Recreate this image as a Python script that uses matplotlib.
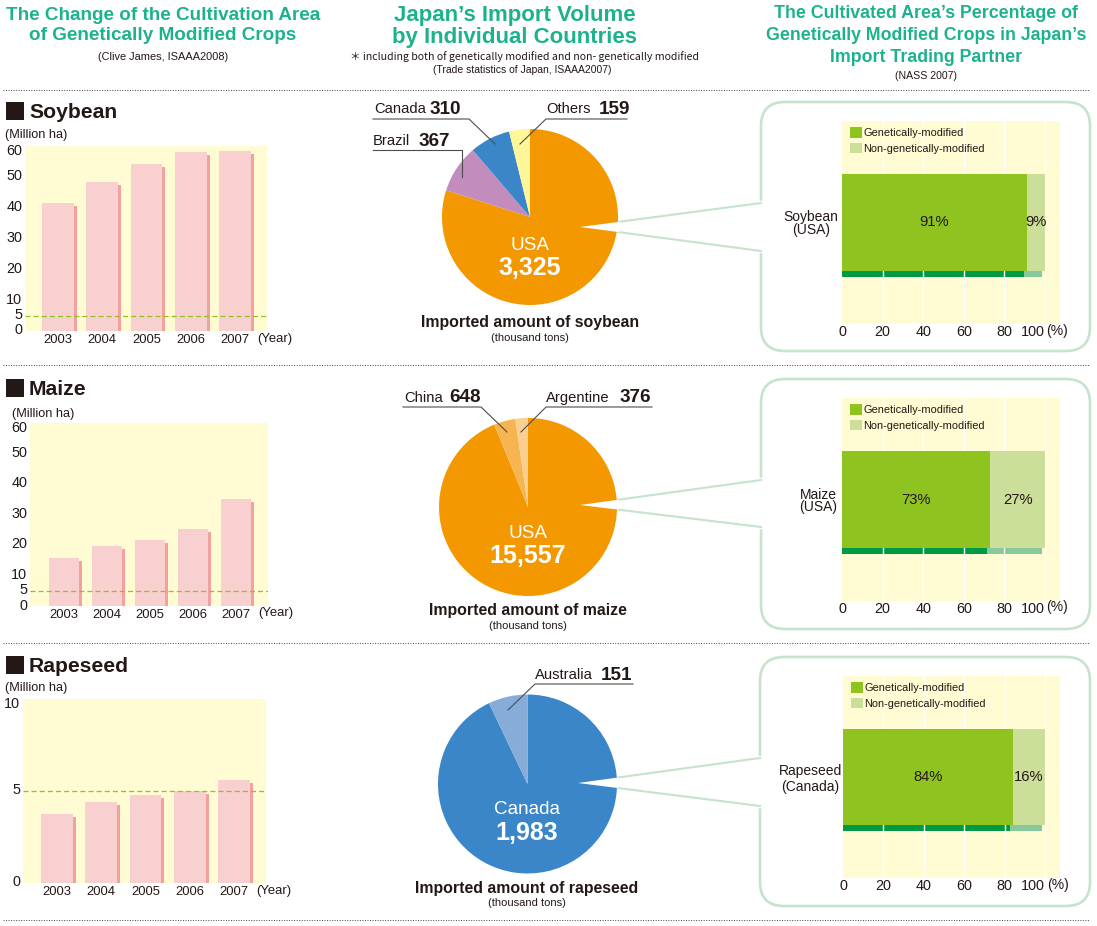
import numpy as np
import matplotlib
matplotlib.use('Agg')
import matplotlib.pyplot as plt
from matplotlib.patches import FancyBboxPatch, Polygon, Rectangle
from matplotlib.transforms import ScaledTranslation, offset_copy

plt.rcParams['font.family'] = ['Liberation Sans', 'DejaVu Sans']

W, H = 1097, 926

years = ['2003', '2004', '2005', '2006', '2007']
soy_area = [41.5, 48.4, 54.2, 58.2, 58.5]
maize_area = [15.6, 19.6, 21.5, 25.2, 35.1]
rape_area = [3.75, 4.4, 4.8, 5.0, 5.6]

soy_import = [3325, 367, 310, 159]
maize_import = [15557, 648, 376]
rape_import = [1983, 151]

soy_pct = [91, 9]
maize_pct = [73, 27]
rape_pct = [84, 16]

GREEN_HEAD = '#1db28e'
TEXT = '#231815'
BOX = '#c5e3cd'
YELLOW = '#fffbd3'
ORANGE = '#f39800'
BLUE = '#3a86c8'

fig = plt.figure(figsize=(W / 100, H / 100), dpi=100, facecolor='white')


def px_axes(x0, y0, x1, y1, z=1):
    ax = fig.add_axes([x0 / W, 1 - y1 / H, (x1 - x0) / W, (y1 - y0) / H], zorder=z)
    return ax


def page_axes(z):
    ax = fig.add_axes([0, 0, 1, 1], zorder=z)
    ax.set_xlim(0, W)
    ax.set_ylim(H, 0)
    ax.axis('off')
    ax.patch.set_alpha(0)
    return ax


back = page_axes(0)
top = page_axes(5)


def txt(x, y, s, size, ha='center', weight='normal', color=TEXT, ax=top, **kw):
    ax.text(x, y, s, fontsize=size, ha=ha, va='center', fontweight=weight, color=color, **kw)


def bar_panel(box, first, step, values, ymax, ticks, year_y, unit_x, unit_y):
    x0, y0, x1, y1 = box
    ax = px_axes(*box)
    ax.set_facecolor(YELLOW)
    # xlim from pixel positions of the first bar and spacing
    ax.set_xlim((x0 - first) / step, (x1 - first) / step)
    ax.set_ylim(0, ymax)
    pos = np.arange(len(values))
    shadow = offset_copy(ax.transData, fig=fig, x=3, y=-3, units='dots')
    ax.bar(pos, values, width=0.72, color='#f3a0a0', transform=shadow, zorder=2)
    ax.bar(pos, values, width=0.72, color='#f8d0d0', zorder=3)
    ax.axhline(5, color='#8fc31f', lw=0.9, ls=(0, (4, 2.5)), zorder=4)
    ax.set_xticks(pos, years)
    ax.set_yticks(ticks)
    ax.tick_params(axis='y', length=0, labelsize=10.4, labelcolor=TEXT, pad=2)
    ax.tick_params(axis='x', length=0, labelsize=9.4, labelcolor=TEXT, pad=2.5)
    labels = ax.get_yticklabels()
    labels[-1].set_va('top')
    # the labels sit about 2px above their gridded spot in the reference
    up = ScaledTranslation(0, 2 / 100, fig.dpi_scale_trans)
    for tick in ax.yaxis.get_major_ticks():
        tick.label1.set_transform(tick.label1.get_transform() + up)
    for s in ax.spines.values():
        s.set_visible(False)
    txt(unit_x, unit_y, '(Million ha)', 9.2, ha='left')
    txt(x1 - 10, year_y, '(Year)', 9.4, ha='left')


def pie_panel(cx, cy, r, values, colors, tip, tail_x, tail_top, tail_bot):
    ax = px_axes(cx - r, cy - r, cx + r, cy + r, z=2)
    ax.pie(values, colors=colors, startangle=90, counterclock=False, radius=1.0)
    ax.set_xlim(-1, 1)
    ax.set_ylim(-1, 1)
    # white notch from the callout, then the tail lines out to the box
    ex = cx + r + 1.5
    k1 = (tail_top - tip[1]) / (tail_x - tip[0])
    k2 = (tail_bot - tip[1]) / (tail_x - tip[0])
    y1 = tip[1] + k1 * (ex - tip[0])
    y2 = tip[1] + k2 * (ex - tip[0])
    top.add_patch(Polygon([tip, (ex, y1), (ex, y2)], fc='white', ec='none', zorder=1))
    back.plot([tail_x, tail_x], [tail_top, tail_bot], color='white', lw=3.2, zorder=3)
    back.plot([tip[0], tail_x], [tip[1], tail_top], color=BOX, lw=1.5, zorder=4)
    back.plot([tip[0], tail_x], [tip[1], tail_bot], color=BOX, lw=1.5, zorder=4)


def pct_panel(box, plot, pct, name, sub, name_x, name_ys):
    bx0, by0, bx1, by1 = box
    back.add_patch(FancyBboxPatch((bx0, by0), bx1 - bx0, by1 - by0,
                                  boxstyle='round,pad=0,rounding_size=24',
                                  fc='white', ec=BOX, lw=1.9, zorder=2))
    ax = px_axes(*plot, z=1)
    ax.set_facecolor(YELLOW)
    ax.set_xlim(0, 107.4)
    ax.set_ylim(-1.035, 1.035)
    dark = offset_copy(ax.transData, fig=fig, x=-3, y=-6, units='dots')
    ax.barh(0, pct[0], height=0.985, color='#009944', transform=dark, zorder=1)
    ax.barh(0, pct[1], left=pct[0], height=0.985, color='#88c99b', transform=dark, zorder=1)
    for g in range(20, 101, 20):
        ax.axvline(g, color='white', lw=1, zorder=2)
    ax.barh(0, pct[0], height=0.985, color='#8fc31f', zorder=3, label='Genetically-modified')
    ax.barh(0, pct[1], left=pct[0], height=0.985, color='#cbdf9b', zorder=3,
            label='Non-genetically-modified')
    ax.text(pct[0] / 2, 0, '%d%%' % pct[0], fontsize=10.6, ha='center', va='center',
            color=TEXT, zorder=4)
    ax.text(pct[0] + pct[1] / 2, 0, '%d%%' % pct[1], fontsize=10.6, ha='center', va='center',
            color=TEXT, zorder=4)
    ax.set_xticks(range(0, 101, 20))
    ax.set_yticks([])
    ax.tick_params(length=0, labelsize=10.4, labelcolor=TEXT, pad=0.5)
    ax.get_xticklabels()[-1].set_ha('right')
    for s in ax.spines.values():
        s.set_visible(False)
    ax.legend(loc='upper left', bbox_to_anchor=(0.016, 0.99), frameon=False, fontsize=7.9,
              handlelength=1.1, handleheight=1.1, handletextpad=0.15,
              labelspacing=0.4, borderpad=0.3, borderaxespad=0.1,
              labelcolor=TEXT)
    txt(plot[0] + 204, plot[3] + 6.5, '(%)', 10, ha='left', zorder=6)
    txt(name_x, name_ys[0], name, 10)
    txt(name_x, name_ys[1], sub, 10)


def leader(pts):
    xs, ys = zip(*pts)
    top.plot(xs, ys, color='#4d4d4d', lw=0.8, zorder=3)


def callout(x, y, name, value, end, line_y, line_x0, line_x1, tail):
    txt(x, y, name, 10.6, ha='left')
    txt(end, y, value, 13.6, ha='right', weight='bold')
    leader([(line_x0, line_y), (line_x1, line_y), tail])


# headers
for y, s in [(15.5, 'The Change of the Cultivation Area'), (36, 'of Genetically Modified Crops')]:
    txt(163, y, s, 13.55, weight='bold', color=GREEN_HEAD)
txt(163, 57, '(Clive James, ISAAA2008)', 7.9)
for y, s in [(15.5, 'Japan\u2019s Import Volume'), (38, 'by Individual Countries')]:
    txt(515, y, s, 16, weight='bold', color=GREEN_HEAD)
txt(524, 57, '\uff0a including both of genetically modified and non- genetically modified', 7.6,
    family=['Noto Sans CJK JP', 'Liberation Sans'])
txt(522, 70, '(Trade statistics of Japan, ISAAA2007)', 7.5)
for y, s in [(14, 'The Cultivated Area\u2019s Percentage of'),
             (35.5, 'Genetically Modified Crops in Japan\u2019s'),
             (57, 'Import Trading Partner')]:
    txt(926, y, s, 12.8, weight='bold', color=GREEN_HEAD)
txt(926, 76, '(NASS 2007)', 7.6)

# separators
for y in [90, 365, 643, 920]:
    back.plot([3, 1090], [y, y], color='#444444', lw=0.7, ls=(0, (1, 1.6)), zorder=1)

# section heads
for y, s in [(111, 'Soybean'), (388, 'Maize'), (665, 'Rapeseed')]:
    top.add_patch(Rectangle((6, y - 9), 18, 18, fc=TEXT, ec='none'))
    txt(29, y + 1.5, s, 15.2, ha='left', weight='bold')

# left column
ticks_60 = [0, 5, 10, 20, 30, 40, 50, 60]
bar_panel((25, 146, 267, 331), 58, 44.25, soy_area, 60, ticks_60, 339, 5, 135)
bar_panel((30, 423, 268, 606), 64, 43, maize_area, 60, ticks_60, 613, 12, 414)
bar_panel((23, 699, 266, 883), 57, 44.25, rape_area, 10, [0, 5, 10], 891, 5, 688)

# right column boxes go first so the tails sit over them
pct_panel((761, 102, 1090, 351), (842, 121, 1060, 324), soy_pct, 'Soybean', '(USA)', 811, (217, 230))
pct_panel((761, 379, 1090, 629), (842, 398, 1060, 601), maize_pct, 'Maize', '(USA)', 818, (495, 507))
pct_panel((760, 657, 1090, 906), (843, 676, 1060, 878), rape_pct, 'Rapeseed', '(Canada)', 810, (771, 787))

# pies
pie_panel(530, 217, 88, soy_import, [ORANGE, '#c28cbc', BLUE, '#fff599'], (580, 227), 761, 203, 251)
pie_panel(528, 507, 89, maize_import, [ORANGE, '#f7b552', '#fbcf8e'], (580, 505), 761, 480, 527)
pie_panel(527.5, 784, 89.5, rape_import, [BLUE, '#88acd8'], (578, 783), 760, 758, 806)

callout(374, 109, 'Canada', '310', 461, 119, 373, 469, (495, 144))
callout(546, 109, 'Others', '159', 630, 119, 627, 546, (520, 144))
callout(373, 141, 'Brazil', '367', 450, 150, 373, 462, (462, 177))
callout(404, 398, 'China', '648', 481, 407, 403, 481, (507, 432))
callout(546, 398, 'Argentine', '376', 651, 407, 652, 546, (521, 432))
callout(535, 675, 'Australia', '151', 632, 684, 633, 535, (508, 710))

for x, y1, y2, name, val in [(530, 245, 268, 'USA', '3,325'),
                             (528, 533, 556, 'USA', '15,557'),
                             (527, 810, 833, 'Canada', '1,983')]:
    txt(x, y1, name, 13.6, color='white')
    txt(x, y2, val, 18, color='white', weight='bold')

for x, y, s in [(530, 323, 'soybean'), (528, 611, 'maize'), (527, 888, 'rapeseed')]:
    txt(x, y, 'Imported amount of ' + s, 11.4, weight='bold')
    txt(x, y + 15, '(thousand tons)', 8)

fig.savefig('out.png', dpi=100)
